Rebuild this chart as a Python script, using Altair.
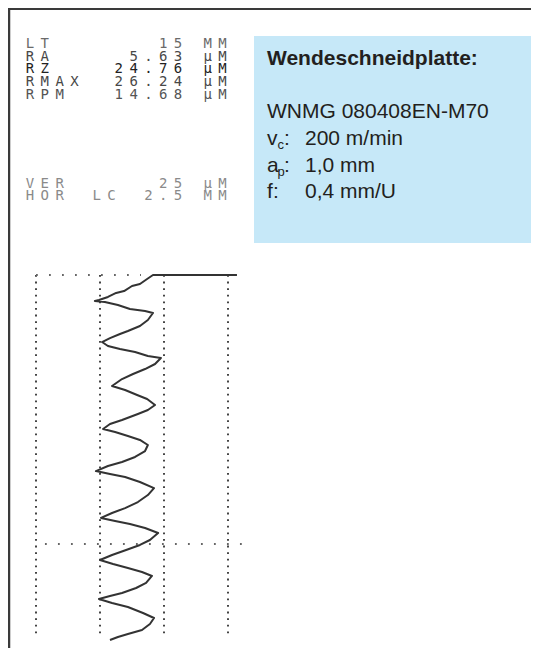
import altair as alt
import pandas as pd

W, H = 523, 640

# ---------------- profile trace (height in µm, position in mm) ----------------
profile_um = [78.5, 64.1, 45.7, 43.4, 40.6, 37.5, 34.4, 31.3, 28.1, 24.6, 23.0,
              26.9, 32.0, 36.7, 42.6, 45.7, 43.7, 40.6, 35.9, 32.8, 28.9, 25.8,
              28.1, 32.8, 38.7, 43.7, 48.8, 46.5, 42.6, 37.9, 33.6, 29.7,
              34.8, 39.5, 43.4, 46.5, 43.7, 39.8, 33.6, 28.9, 26.2,
              30.9, 35.9, 40.6, 43.7, 42.6, 38.7, 33.6, 28.1, 23.4,
              28.9, 34.8, 40.6, 46.1, 43.7, 39.8, 34.8, 29.7, 25.4,
              30.9, 36.7, 42.6, 47.7, 44.5, 40.6, 35.2, 29.7, 25.0,
              30.1, 35.9, 41.4, 45.3, 43.0, 39.1, 33.6, 28.9, 24.6,
              29.7, 35.9, 41.8, 46.1, 44.5, 41.4, 35.9, 32.0, 28.9]
profile_mm = [0.000, 0.000, 0.000, 0.037, 0.084, 0.102, 0.149, 0.167, 0.204, 0.232, 0.242,
              0.251, 0.279, 0.316, 0.335, 0.353, 0.418, 0.474, 0.520, 0.548, 0.586, 0.623,
              0.660, 0.688, 0.716, 0.753, 0.771, 0.827, 0.874, 0.920, 0.967, 1.032,
              1.069, 1.115, 1.152, 1.208, 1.255, 1.292, 1.348, 1.385, 1.431,
              1.459, 1.496, 1.533, 1.580, 1.636, 1.691, 1.738, 1.775, 1.822,
              1.850, 1.877, 1.924, 1.980, 2.045, 2.110, 2.166, 2.212, 2.258,
              2.286, 2.314, 2.351, 2.398, 2.463, 2.509, 2.556, 2.602, 2.649,
              2.686, 2.723, 2.760, 2.797, 2.862, 2.909, 2.955, 2.983, 3.011,
              3.048, 3.086, 3.141, 3.188, 3.243, 3.299, 3.336, 3.364, 3.392]

# grid of the recorder chart
grid_um = [0, 25, 50, 75]
grid_mm_start = [0.0, 0.0, 0.0, 0.0]
grid_mm_end = [3.37, 3.37, 3.37, 3.37]
ref_mm = [0.0, 2.5]
ref_from_um = [0.0, 3.5]
ref_to_um = [41.0, 81.6]

# ---------------- printed measurement block ----------------
meas_labels = ["LT", "RA", "RZ", "RMAX", "RPM", "VER", "HOR"]
meas_values = ["15", "5.63", "24.76", "26.24", "14.68", "25", "2.5"]
meas_units = ["MM", "µM", "µM", "µM", "µM", "µM", "MM"]
meas_extra = ["", "", "", "", "", "", "LC"]
meas_colors = ["#6a6a6a", "#484848", "#222222", "#484848", "#555555", "#8a8a8a", "#8a8a8a"]

# ---------------- info box ----------------
box_title = "Wendeschneidplatte:"
box_code = "WNMG 080408EN-M70"
box_symbols = ["v", "a", "f"]
box_subs = ["c", "p", ""]
box_values = ["200 m/min", "1,0 mm", "0,4 mm/U"]

# ================= build =================
x_um = alt.Scale(domain=[-28 / 2.56, (W - 28) / 2.56], range=[0, W])
y_mm = alt.Scale(domain=[-267 / 107.6, (H - 267) / 107.6], range=[0, H])
px_x = alt.Scale(domain=[0, W], range=[0, W])
px_y = alt.Scale(domain=[0, H], range=[0, H])

one = pd.DataFrame({"a": [0]})

top_line = alt.Chart(one).mark_rule(color="#3a3a3a", strokeWidth=2).encode(
    x=alt.value(0), x2=alt.value(W), y=alt.value(1))
left_line = alt.Chart(one).mark_rule(color="#3a3a3a", strokeWidth=2.5).encode(
    x=alt.value(1), y=alt.value(0), y2=alt.value(H))

box = alt.Chart(one).mark_rect(color="#c6e8f8").encode(
    x=alt.value(246), x2=alt.value(523), y=alt.value(28), y2=alt.value(235))

grid_df = pd.DataFrame({"z": grid_um, "s0": grid_mm_start, "s1": grid_mm_end})
vgrid = alt.Chart(grid_df).mark_rule(color="#444444", strokeWidth=2,
                                     strokeDash=[1.8, 4.8]).encode(
    x=alt.X("z:Q", scale=x_um, axis=None),
    y=alt.Y("s0:Q", scale=y_mm, axis=None),
    y2="s1:Q")

ref_df = pd.DataFrame({"s": ref_mm, "z0": ref_from_um, "z1": ref_to_um})
hgrid = alt.Chart(ref_df).mark_rule(color="#666666", strokeWidth=2,
                                    strokeDash=[1.8, 11.2]).encode(
    y=alt.Y("s:Q", scale=y_mm, axis=None),
    x=alt.X("z0:Q", scale=x_um, axis=None),
    x2="z1:Q")

prof_df = pd.DataFrame({"z": profile_um, "s": profile_mm,
                        "i": list(range(len(profile_um)))})
profile = alt.Chart(prof_df).mark_line(color="#333333", strokeWidth=2,
                                       strokeJoin="round").encode(
    x=alt.X("z:Q", scale=x_um, axis=None),
    y=alt.Y("s:Q", scale=y_mm, axis=None),
    order="i:Q")

# character grid of the dot-matrix print-out
CELL = 14.8
COL0 = 22.0          # centre of first character cell (chart px)
row_base = [40, 52.7, 65.4, 78.1, 90.8, 179.5, 192]
rows = []
for r, (lab, val, unit, extra, col) in enumerate(
        zip(meas_labels, meas_values, meas_units, meas_extra, meas_colors)):
    tokens = [(lab, 0.0), (val, 11.0 - len(val)), (unit, 12.0)]
    if extra:
        tokens.append((extra, 4.5))
    for txt, start in tokens:
        for k, ch in enumerate(txt):
            rows.append({"ch": ch, "cx": COL0 + (start + k) * CELL,
                         "cy": row_base[r], "c": col})
char_df = pd.DataFrame(rows)
printout = alt.Chart(char_df).mark_text(
    font="DejaVu Sans Mono", fontSize=14, align="center",
    baseline="alphabetic").encode(
    x=alt.X("cx:Q", scale=px_x, axis=None),
    y=alt.Y("cy:Q", scale=px_y, axis=None),
    text="ch:N",
    color=alt.Color("c:N", scale=None))

FONT = "Liberation Sans"
INK = "#231f20"
title = alt.Chart(one).mark_text(font=FONT, fontSize=21, fontWeight="bold",
                                 align="left", baseline="alphabetic",
                                 color=INK, text=box_title).encode(
    x=alt.value(259), y=alt.value(57))
code = alt.Chart(one).mark_text(font=FONT, fontSize=21, align="left",
                                baseline="alphabetic", color=INK,
                                text=box_code).encode(
    x=alt.value(259), y=alt.value(110))

param_layers = []
line_base = [137, 164, 190]
for j, (sym, sub, val) in enumerate(zip(box_symbols, box_subs, box_values)):
    yb = line_base[j]
    param_layers.append(alt.Chart(one).mark_text(
        font=FONT, fontSize=21, align="left", baseline="alphabetic",
        color=INK, text=sym).encode(x=alt.value(259), y=alt.value(yb)))
    if sub:
        param_layers.append(alt.Chart(one).mark_text(
            font=FONT, fontSize=13, align="left", baseline="alphabetic",
            color=INK, text=sub).encode(x=alt.value(269.5), y=alt.value(yb + 4)))
        colon_x = 276
    else:
        colon_x = 265
    param_layers.append(alt.Chart(one).mark_text(
        font=FONT, fontSize=21, align="left", baseline="alphabetic",
        color=INK, text=":").encode(x=alt.value(colon_x), y=alt.value(yb)))
    param_layers.append(alt.Chart(one).mark_text(
        font=FONT, fontSize=21, align="left", baseline="alphabetic",
        color=INK, text=val).encode(x=alt.value(297), y=alt.value(yb)))

chart = alt.layer(
    box, vgrid, hgrid, profile, printout, title, code, *param_layers,
    top_line, left_line
).resolve_scale(x="independent", y="independent").properties(
    width=W, height=H, padding=0,
    autosize=alt.AutoSizeParams(type="none"),
    background="white"
).configure_view(stroke=None)

chart.save("out.html", embed_options={"renderer": "svg", "actions": False})
